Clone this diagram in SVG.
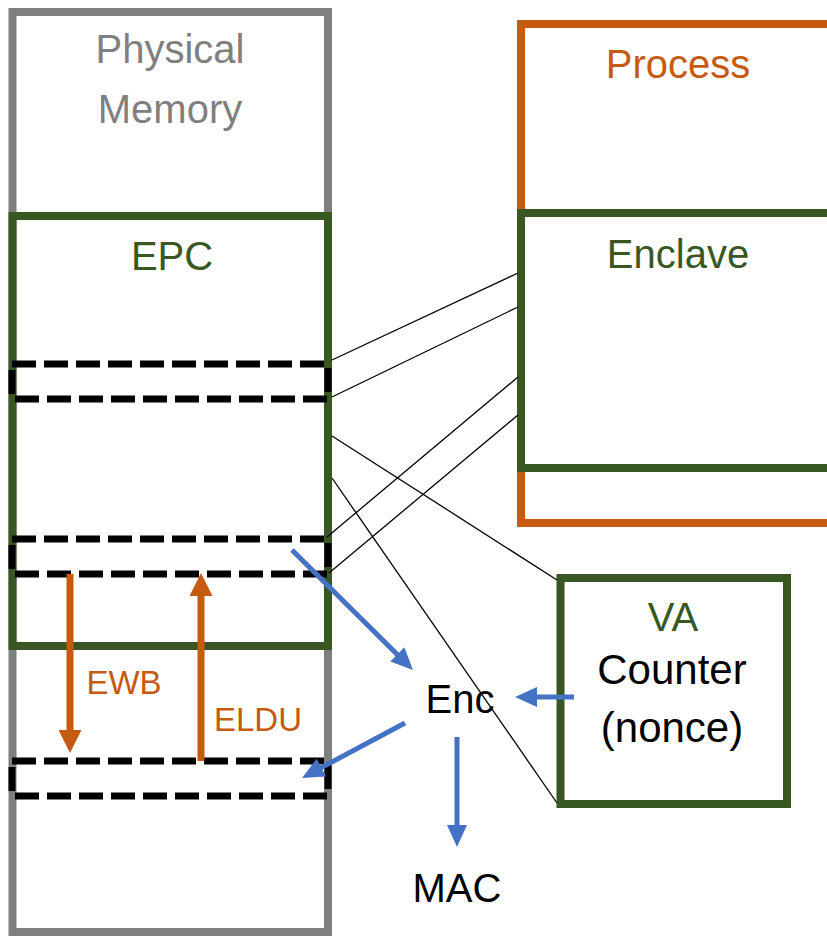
<svg xmlns="http://www.w3.org/2000/svg" width="827" height="936" viewBox="0 0 827 936">
<style>
text { font-family: "Liberation Sans", Arial, sans-serif; font-size: 40px; text-anchor: middle; }
.gray { fill: #7f7f7f; }
.green { fill: #385723; }
.orange { fill: #c55a11; }
.black { fill: #000000; }
.big { font-size: 42px; }
.box { fill: none; stroke-width: 8; }
.dash { fill: none; stroke: #000; stroke-width: 7; stroke-dasharray: 24 8; }
.thin { stroke: #000; stroke-width: 1.3; fill: none; }
.blue { stroke: #4472c4; stroke-width: 5; fill: none; marker-end: url(#bluehead); }
.orarrow { stroke: #c55a11; stroke-width: 7; fill: none; marker-end: url(#orangehead); }
</style>
<defs>
<marker id="bluehead" markerUnits="userSpaceOnUse" markerWidth="22" markerHeight="20" refX="7" refY="10" orient="auto" viewBox="0 0 22 20">
<path d="M0,0 L22,10 L0,20 z" fill="#4472c4"/>
</marker>
<marker id="orangehead" markerUnits="userSpaceOnUse" markerWidth="23" markerHeight="23" refX="8" refY="11.5" orient="auto" viewBox="0 0 23 23">
<path d="M0,0 L23,11.5 L0,23 z" fill="#c55a11"/>
</marker>
</defs>
<rect width="827" height="936" fill="#ffffff"/>

<g id="physical-memory">
<rect class="box" x="12.5" y="12" width="315.5" height="920" stroke="#7f7f7f"/>
<text class="gray" x="170" y="63">Physical</text>
<text class="gray" x="170" y="123">Memory</text>
</g>

<g id="epc">
<rect class="box" x="12.5" y="216" width="315.5" height="430" stroke="#385723"/>
<text class="green" x="172" y="270">EPC</text>
</g>

<g id="page1"><rect class="dash" x="12" y="364" width="316" height="35"/></g>
<g id="page2"><rect class="dash" x="12" y="539" width="316" height="35"/></g>
<g id="page3"><rect class="dash" x="12" y="761" width="316" height="35"/></g>

<g id="process">
<rect class="box" x="521" y="24" width="330" height="499" stroke="#c55a11"/>
<text class="orange" x="678" y="78">Process</text>
</g>

<g id="enclave">
<rect class="box" x="521" y="213" width="330" height="255" stroke="#385723"/>
<text class="green" x="678" y="268">Enclave</text>
</g>

<g id="va">
<rect class="box" x="560.5" y="578" width="226.5" height="226" stroke="#385723"/>
<text class="green" x="673" y="631">VA</text>
<text class="black big" x="672" y="684">Counter</text>
<text class="black big" x="672" y="742">(nonce)</text>
</g>

<g id="enc"><text class="black" x="460" y="713">Enc</text></g>
<g id="mac"><text class="black" x="457" y="902">MAC</text></g>

<g id="connectors">
<line class="thin" x1="332" y1="360" x2="518" y2="273"/>
<line class="thin" x1="332" y1="397" x2="518" y2="307"/>
<line class="thin" x1="327" y1="537" x2="518" y2="377"/>
<line class="thin" x1="329" y1="573" x2="518" y2="415"/>
<line class="thin" x1="332" y1="436" x2="557" y2="580"/>
<line class="thin" x1="332" y1="478" x2="557" y2="803"/>

<line class="blue" x1="292" y1="550" x2="402.3" y2="659.4"/>
<line class="blue" x1="405" y1="723" x2="315.2" y2="770.9"/>
<line class="blue" x1="574" y1="697" x2="530" y2="697"/>
<line class="blue" x1="457" y1="737" x2="457" y2="832"/>

<line class="orarrow" x1="70" y1="574" x2="70" y2="738"/>
<line class="orarrow" x1="201" y1="761" x2="201" y2="588"/>
</g>

<g id="labels">
<text class="orange" x="124" y="694" style="font-size:33px">EWB</text>
<text class="orange" x="258" y="731" style="font-size:33px">ELDU</text>
</g>
</svg>
